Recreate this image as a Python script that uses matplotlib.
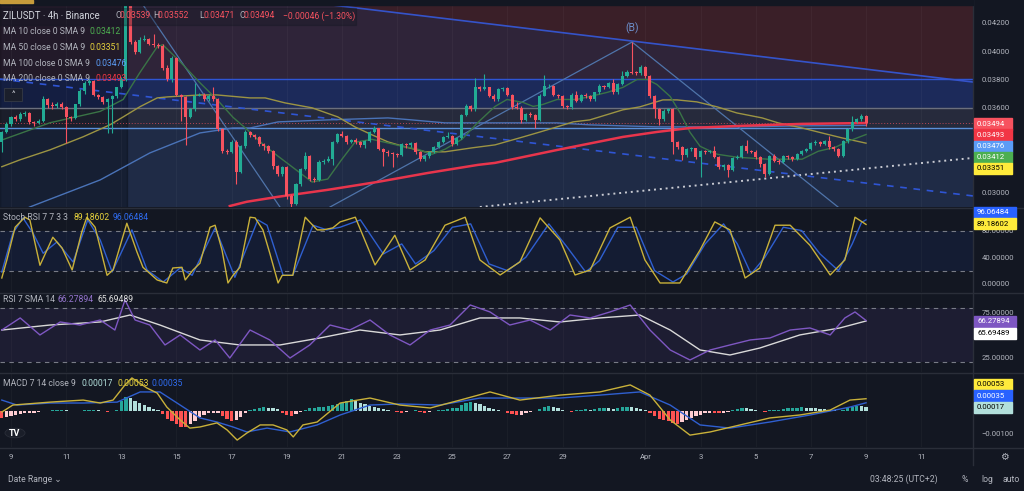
import matplotlib
matplotlib.use("Agg")
import matplotlib.pyplot as plt
import numpy as np
import pandas as pd
from matplotlib.patches import Rectangle, Polygon, Circle

plt.rcParams["font.family"] = ["Roboto", "DejaVu Sans"]

# ---------------- data (prices in 1e-5 USDT) ----------------
first_open = 3357
close = [3428, 3484, 3533, 3519, 3554, 3561, 3498, 3492, 3505, 3659,
         3617, 3610, 3624, 3603, 3533, 3526, 3624, 3716, 3772, 3786,
         3694, 3673, 3638, 3659, 3680, 3744, 3800, 4326, 4066, 3996,
         4080, 4085, 4052, 4045, 4038, 3884, 3800, 3954, 3694, 3673,
         3533, 3589, 3687, 3694, 3659, 3680, 3659, 3449, 3294, 3287,
         3357, 3147, 3329, 3430, 3407, 3393, 3343, 3329, 3294, 3189,
         3133, 3182, 2978, 2922, 3062, 3168, 3259, 3098, 3091, 3217,
         3224, 3238, 3357, 3414, 3400, 3357, 3371, 3357, 3336, 3364,
         3428, 3456, 3308, 3287, 3280, 3273, 3266, 3343, 3336, 3350,
         3287, 3238, 3259, 3287, 3322, 3357, 3393, 3400, 3343, 3385,
         3547, 3610, 3589, 3744, 3730, 3744, 3687, 3659, 3730, 3737,
         3694, 3603, 3600, 3512, 3554, 3550, 3512, 3687, 3751, 3755,
         3694, 3680, 3610, 3603, 3694, 3645, 3694, 3680, 3659, 3709,
         3751, 3744, 3772, 3709, 3765, 3821, 3856, 3849, 3845, 3891,
         3821, 3680, 3589, 3519, 3575, 3589, 3357, 3322, 3266, 3308,
         3315, 3252, 3294, 3287, 3294, 3252, 3182, 3196, 3161, 3245,
         3252, 3329, 3294, 3290, 3252, 3203, 3133, 3259, 3224, 3218,
         3259, 3252, 3238, 3273, 3294, 3308, 3350, 3357, 3343, 3364,
         3322, 3308, 3259, 3364, 3449, 3498, 3519, 3539, 3494]
high = [3440, 3500, 3545, 3550, 3570, 3580, 3570, 3510, 3520, 3680,
        3670, 3640, 3640, 3640, 3610, 3545, 3630, 3730, 3790, 3800,
        3795, 3700, 3680, 3670, 3690, 3750, 3820, 4400, 4340, 4080,
        4100, 4110, 4095, 4120, 4060, 4050, 3900, 3965, 3960, 3700,
        3680, 3600, 3777, 3705, 3705, 3700, 3750, 3670, 3460, 3310,
        3370, 3370, 3340, 3445, 3440, 3415, 3400, 3350, 3340, 3300,
        3195, 3190, 3190, 2990, 3070, 3175, 3290, 3265, 3110, 3230,
        3240, 3260, 3365, 3420, 3440, 3410, 3380, 3390, 3365, 3375,
        3440, 3470, 3460, 3315, 3300, 3290, 3285, 3355, 3350, 3360,
        3360, 3295, 3270, 3295, 3330, 3365, 3400, 3430, 3410, 3395,
        3555, 3625, 3620, 3810, 3755, 3840, 3750, 3700, 3740, 3750,
        3750, 3700, 3640, 3610, 3565, 3570, 3560, 3695, 3830, 3770,
        3760, 3700, 3690, 3620, 3705, 3720, 3700, 3705, 3690, 3715,
        3765, 3760, 3780, 3800, 3775, 3860, 3870, 4066, 3860, 3900,
        3895, 3830, 3690, 3600, 3590, 3600, 3600, 3365, 3330, 3320,
        3325, 3320, 3300, 3300, 3305, 3330, 3260, 3205, 3205, 3255,
        3265, 3340, 3375, 3300, 3300, 3260, 3210, 3270, 3275, 3240,
        3265, 3270, 3260, 3280, 3300, 3318, 3360, 3370, 3365, 3375,
        3400, 3330, 3315, 3370, 3460, 3540, 3530, 3560, 3552]
low = [3290, 3420, 3475, 3510, 3510, 3545, 3485, 3475, 3485, 3500,
       3600, 3595, 3600, 3590, 3350, 3510, 3520, 3615, 3700, 3760,
       3685, 3660, 3625, 3420, 3420, 3670, 3740, 3790, 4050, 3980,
       3990, 4070, 4040, 4030, 4020, 3870, 3790, 3780, 3680, 3505,
       3340, 3525, 3580, 3680, 3650, 3650, 3650, 3440, 3285, 3275,
       3280, 3065, 3140, 3320, 3395, 3380, 3330, 3300, 3285, 3170,
       3120, 3120, 2960, 2890, 2915, 3050, 3160, 3085, 3080, 3085,
       3205, 3215, 3200, 3350, 3395, 3345, 3350, 3345, 3325, 3320,
       3360, 3420, 3300, 3190, 3260, 3185, 3250, 3260, 3320, 3325,
       3275, 3225, 3225, 3245, 3280, 3315, 3350, 3385, 3330, 3335,
       3380, 3540, 3580, 3580, 3720, 3725, 3675, 3650, 3650, 3720,
       3680, 3590, 3590, 3490, 3505, 3535, 3460, 3505, 3680, 3740,
       3685, 3670, 3600, 3590, 3595, 3640, 3640, 3670, 3650, 3650,
       3700, 3735, 3740, 3700, 3700, 3760, 3815, 3840, 3835, 3830,
       3810, 3670, 3530, 3480, 3510, 3565, 3275, 3310, 3230, 3255,
       3295, 3240, 3115, 3275, 3280, 3245, 3170, 3165, 3115, 3155,
       3240, 3245, 3285, 3280, 3240, 3180, 3115, 3125, 3215, 3205,
       3210, 3240, 3225, 3230, 3265, 3290, 3300, 3340, 3330, 3335,
       3310, 3295, 3250, 3250, 3355, 3440, 3490, 3510, 3471]

ma10_x = [0, 10.5, 21.4, 26.4, 30, 33.8, 35, 38.8, 43.1, 46.8, 50.3, 53.3, 57.3,
          60.1, 63.8, 67.5, 70.9, 74, 76.8, 80.5, 83.4, 87.1, 90.5, 93.6, 96.4,
          100.1, 103.6, 107.3, 109.9, 113.4, 115.6, 117.7, 120.8, 125.1, 127.9,
          131.7, 135.1, 138.2, 140.4, 142.5, 145.4, 147.5, 149.7, 151.9, 155.6,
          159.9, 166.7, 174.1, 177.6, 181.3, 184.1, 188]
ma10_v = [3373, 3495, 3575, 3659, 3847, 4030, 4045, 3925, 3777, 3659, 3533, 3449,
          3329, 3259, 3168, 3077, 3098, 3238, 3357, 3378, 3357, 3329, 3308, 3273,
          3308, 3378, 3498, 3610, 3659, 3638, 3610, 3624, 3659, 3659, 3680, 3709,
          3744, 3800, 3800, 3765, 3680, 3568, 3428, 3329, 3273, 3252, 3238, 3238,
          3294, 3322, 3364, 3412]
ma50_x = [0, 4, 10.5, 17.7, 23.5, 26.4, 30, 33.8, 36, 43.1, 46.8, 54, 57.3, 61.6,
          67.5, 73.1, 76.8, 80.5, 84, 87.7, 92.1, 96.4, 102.3, 107.3, 113.4, 117.1,
          120.8, 124.3, 127.9, 135.1, 138.8, 143.8, 146.9, 151.2, 155.6, 159.9,
          165.4, 168.9, 174.1, 178.4, 182.8, 188]
ma50_v = [3185, 3234, 3304, 3396, 3480, 3536, 3607, 3670, 3677, 3691, 3691, 3670,
          3670, 3635, 3600, 3536, 3466, 3410, 3360, 3325, 3290, 3290, 3318, 3339,
          3395, 3430, 3466, 3501, 3515, 3586, 3607, 3656, 3656, 3642, 3607, 3564,
          3529, 3494, 3458, 3423, 3388, 3351]
ma100_x = [6, 21.4, 32.2, 43.1, 50.3, 54, 60.1, 70.9, 84, 89.2, 96.4, 107.3, 120.8,
           127.9, 135.1, 142.5, 149.7, 160.6, 174.1, 188]
ma100_v = [2900, 3092, 3282, 3423, 3458, 3458, 3501, 3515, 3529, 3515, 3494, 3494,
           3494, 3480, 3473, 3466, 3466, 3466, 3473, 3476]
ma200_x = [49.6, 53.3, 60.1, 70.9, 81.8, 92.7, 103.6, 107.3, 120.8, 135.1, 142.5,
           149.7, 160.6, 174.1, 188]
ma200_v = [2908, 2938, 2973, 3022, 3078, 3141, 3198, 3212, 3303, 3395, 3430, 3458,
           3473, 3487, 3493]

stoch_k_x = [0, 1.1, 2.9, 5, 6.1, 8.3, 11.1, 13.1, 15.3, 17.4, 18.5, 20.3, 22.9,
             24.2, 27.2, 29.4, 30.7, 33.8, 35.9, 37.2, 39.2, 39.9, 41.6, 43.1, 45.3,
             46.4, 47.9, 49.2, 50.3, 51.8, 54, 55.1, 56.8, 58.3, 60.1, 61, 63.3, 66,
             68.6, 69.9, 72, 73.6, 76.9, 81.2, 85.5, 88.8, 92.1, 96.4, 100.8, 104,
             108.4, 112.7, 117.1, 121.4, 124.7, 128, 132.3, 136.7, 139.9, 143.2,
             147.5, 151.9, 155.1, 158.4, 161.7, 164.9, 168.2, 171.5, 175.8, 180.2,
             183.4, 185.6, 188]
stoch_k_v = [9, 36, 85, 100, 96, 28, 70, 54, 21, 78, 100, 85, 13, 21, 91, 48, 25, 6,
             1.5, 24, 25, 6, 21, 31, 85, 88, 51, 1.5, 13, 25, 100, 99, 81, 46, 1.5,
             13, 13, 100, 81, 81, 84, 93, 100, 28.5, 73, 21, 36, 88, 100, 36, 13.5,
             33, 99, 66, 13.5, 21, 84, 100, 36, 1.5, 1.5, 51, 93, 81, 9, 24, 88, 88,
             58, 13.5, 36, 100, 89.19]
stoch_d_x = [0, 2.4, 4.6, 6.8, 9, 12, 15.5, 18.7, 21.4, 24, 28.3, 31.6, 35.1, 38.8,
             41.4, 46.4, 50.7, 55.7, 57.7, 61.2, 63.3, 67.7, 70.7, 73.6, 78, 83, 87,
             90, 94, 98, 102, 106, 110, 114, 119, 123, 127, 130, 134, 138, 142, 146,
             149, 153, 157, 160, 163, 166, 170, 174, 178, 182, 185, 187, 188]
stoch_d_v = [18, 76, 99, 76, 46, 63, 33, 96, 66, 18, 81, 21, 3, 24, 13, 84, 10, 96,
             88, 13, 13, 88, 81, 85, 96, 45, 60, 30, 50, 85, 90, 30, 20, 40, 90, 55,
             18, 35, 85, 85, 20, 3, 15, 60, 90, 60, 15, 40, 85, 80, 45, 20, 60, 92,
             96.06]

rsi_x = [0, 4, 8.3, 12.7, 17, 21.4, 24.6, 26.8, 29, 32.2, 35.5, 38.8, 43.1, 46.4,
         49.6, 54, 58.3, 62.7, 67, 71.4, 75.7, 80.1, 84.4, 88.8, 93.2, 97.5, 101.9,
         106.2, 110.5, 114.9, 119.3, 123.6, 128, 132.3, 136.7, 141, 145.4, 149.7,
         154.1, 158.4, 162.8, 167.1, 171.5, 175.8, 180.2, 183.4, 185.6, 188]
rsi_v = [55.6, 69.1, 50.1, 64.6, 61.2, 66.8, 55.6, 89.2, 66.8, 61.2, 38.9, 50.1,
         33.3, 44.5, 24.3, 55.6, 44.5, 24.3, 38.9, 61.2, 55.6, 66.8, 50.1, 38.9,
         55.6, 61.2, 83.6, 75.8, 61.2, 66.8, 55.6, 72.4, 69.1, 75.8, 83.6, 55.6,
         33.3, 22.1, 33.3, 38.9, 44.5, 46.7, 55.6, 57.9, 50.1, 69.1, 75.8, 66.28]
rsi_ma_x = [0, 10.5, 21.4, 27.9, 34.4, 43.1, 51.8, 60.5, 69.2, 77.9, 86.6, 95.3,
            104, 112.7, 121.4, 130.1, 138.8, 145.4, 151.9, 158.4, 164.9, 173.6,
            182.3, 188]
rsi_ma_v = [55.6, 61.2, 64.6, 72.4, 61.2, 44.5, 38.9, 38.9, 46.7, 55.6, 50.1, 55.6,
            69.1, 69.1, 64.6, 69.1, 72.4, 55.6, 33.3, 27.7, 35.5, 50.1, 57.9, 65.69]

# MACD values in 1e-5
macd_x = [0, 2.4, 10.5, 17.7, 21.4, 24.2, 26.8, 28.3, 31.6, 33.8, 35.9, 38.8, 40.9,
          43.1, 46.8, 49, 51.2, 53.3, 56.2, 59, 62, 63.4, 65.5, 68.6, 73.6, 80.1,
          86.6, 93.2, 99.7, 106.2, 112.7, 121.4, 130.1, 136.7, 141, 145.4, 149.7,
          154.1, 160.6, 167.1, 173.6, 180.2, 184.5, 188]
macd_v = [-6, 25, 38, 47, 34, 47, 114, 145, 100, 78, 16, -41, -77, -72, -54, -85,
          -130, -99, -63, -63, -85, -116, -63, -50, 34, 56, 25, 12, 47, 83, 47, 69,
          83, 114, 69, -41, -108, -94, -63, -32, -19, 3, 47, 53]
signal_x = [0, 3.3, 10.5, 17.7, 25.1, 30.1, 34.4, 38.8, 43.1, 46.8, 50.3, 53.3,
            57.7, 62.7, 68.6, 73.6, 80.1, 86.6, 95.3, 104, 112.7, 121.4, 130.1,
            138.8, 145.4, 151.9, 158.4, 167.1, 175.8, 184.5, 188]
signal_v = [47, 25, 34, 34, 38, 83, 83, 25, -32, -50, -72, -94, -77, -94, -63, -19,
            25, 30, 25, 56, 56, 56, 69, 83, 25, -63, -77, -50, -19, 16, 35]
hist = [-33, -30, -25, -18, -14, -12, -10, -8, -5, -3, -2, 2, 3,
        3, 2, -2, -3, -2, 3, 4, 4, 3, -2, -4, -3, 5, 45, 62,
        55, 45, 35, 25, 15, 8, 5, -15, -35, -45, -60, -70, -72,
        -60, -45, -30, -20, -12, -10, -8, -25, -35, -45, -40, -30,
        -10, 5, 8, 12, 15, 14, 12, 8, -10, -18, -25, -15, -6, 3,
        10, 12, 15, 18, 20, 24, 28, 35, 45, 50, 42, 35, 28, 22,
        15, 10, 6, 3, -3, -6, -8, -5, -3, 2, -5, -8, -6, -3, 2, 5, 8, 10, 12,
        25, 35, 40, 35, 28, 20, 12, 8, 5, -3, -8, -15, -20, -18, -12, -6, -3, 8,
        18, 22, 18, 12, 5, -3, -5, 2, 5, 6, 5, 8, 12, 14, 12, 8, 10, 15, 18,
        15, 12, 8, 2, -10, -22, -35, -42, -45, -55, -58, -50, -40, -32,
        -25, -18, -12, -8, -8, -10, -8, -5, 3, 8, 12, 10, 6, 4, -2, -5, 2, 4,
        5, 8, 10, 12, 14, 15, 14, 12, 10, 8, 6, 4, 2, -2, 5, 12, 18, 22, 20, 17]

day_ticks = ["2024-03-09", "2024-03-11", "2024-03-13", "2024-03-15", "2024-03-17",
             "2024-03-19", "2024-03-21", "2024-03-23", "2024-03-25", "2024-03-27",
             "2024-03-29", "2024-04-01", "2024-04-03", "2024-04-05", "2024-04-07",
             "2024-04-09", "2024-04-11"]
day_labels = ["9", "11", "13", "15", "17", "19", "21", "23", "25", "27", "29", "Apr",
              "3", "5", "7", "9", "11"]
first_bar = "2024-03-08 16:00"

# ---------------- look ----------------
W, H = 1024, 491
PR = 973  # price scale border (px)
BG = "#131722"
GRID = "#2a2e39"
TXT = "#b2b5be"
UP, DN = "#22ab94", "#f7525f"
P = 1e-5
X0, X1 = -0.392, 211.27

fig = plt.figure(figsize=(W / 100, H / 100), dpi=100)
fig.patch.set_facecolor(BG)


def pane(top, bottom, ylim):
    a = fig.add_axes([0, 1 - bottom / H, PR / W, (bottom - top) / H])
    a.set_facecolor(BG)
    a.set_xlim(X0, X1)
    a.set_ylim(*ylim)
    for s in a.spines.values():
        s.set_visible(False)
    a.yaxis.tick_right()
    a.tick_params(axis="y", length=0, pad=6, labelsize=5.6, labelcolor=TXT)
    a.tick_params(axis="x", length=0, labelbottom=False)
    return a


def ftext(x, y, s, **kw):
    kw.setdefault("fontsize", 6.2)
    kw.setdefault("va", "center")
    fig.text(x / W, 1 - y / H, s, **kw)


def tag(y, s, bg, fg="white", x1=1012):
    fig.add_artist(Rectangle((974 / W, 1 - (y + 5.5) / H), (x1 - 974) / W, 11 / H,
                             transform=fig.transFigure, color=bg, zorder=5))
    ftext(977, y, s, color=fg, fontsize=5.6, zorder=6)


t0 = pd.Timestamp(first_bar)
tick_pos = [(pd.Timestamp(d) - t0) / pd.Timedelta(hours=4) for d in day_ticks]

# ---------------- main price pane ----------------
ax = pane(5, 207, (0.02901, 0.04325))
top = 0.04325
ax.add_patch(Rectangle((X0, 0.038), X1 - X0, 0.01, color="#3a1f28", zorder=0))
ax.add_patch(Polygon([(X0, 0.038), (X0, top), (71.8, top), (X1, 0.03782), (X1, 0.038)],
                     closed=True, color="#2f2439", zorder=0))
ax.add_patch(Rectangle((X0, 0.036), X1 - X0, 0.002, color="#1c2a5a", zorder=0))
ax.add_patch(Rectangle((X0, 0.03458), X1 - X0, 0.00142, color="#262a3c", zorder=0))
ax.add_patch(Rectangle((X0, 0.028), X1 - X0, 0.00658, color="#1f2b46", zorder=0))
ax.add_patch(Rectangle((X0, 0.028), 27.2 - X0, 0.02, color="black", alpha=0.27, zorder=0.5))
for tp in tick_pos:
    ax.axvline(tp, color="white", alpha=0.035, lw=0.8, zorder=0.6)

ax.axhline(0.038, color="#2f55d4", lw=1.0, zorder=1)
ax.axhline(0.036, color="#6b6f7d", lw=1.0, zorder=1)
ax.axhline(0.03458, color="#5b8fd8", lw=1.0, zorder=1)
ax.axhline(0.03494, color=DN, lw=0.7, ls=(0, (1, 2)), alpha=0.7, zorder=1)

ax.plot([62.9, X1], [0.0436, 0.03782], color="#3553c9", lw=1.2, zorder=2)
ax.plot([X0, X1], [0.03803, 0.02979], color="#2f55d4", lw=1.2, ls=(0, (4, 4)), zorder=2)
ax.plot([104, X1], [0.02901, 0.03247], color="#c8cad2", lw=1.4, ls=(0, (1, 2)), zorder=2)
ax.plot([30.0, 60.5], [0.0436, 0.02901], color="#4f74aa", lw=0.9, zorder=2)
ax.plot([71.4, 137.1, 181.9], [0.02901, 0.04064, 0.02901], color="#4f74aa", lw=0.9, zorder=2)
ax.text(137.1, 0.04163, "(B)", color="#6d8fcb", fontsize=7.5, ha="center", va="center")

ax.plot(ma100_x, np.array(ma100_v) * P, color="#4a73b8", lw=1.0, zorder=2)
ax.plot(ma50_x, np.array(ma50_v) * P, color="#9c9443", lw=1.0, zorder=2)
ax.plot(ma10_x, np.array(ma10_v) * P, color="#3a7446", lw=1.0, zorder=2)
ax.plot(ma200_x, np.array(ma200_v) * P, color="#e8354c", lw=1.8, zorder=2)

c = np.array(close) * P
o = np.r_[first_open * P, c[:-1]]
idx = np.arange(len(c))
cols = np.where(c >= o, UP, DN)
ax.vlines(idx, np.array(low) * P, np.array(high) * P, colors=cols, lw=0.8, zorder=3)
ax.bar(idx, np.maximum(np.abs(c - o), 0.00005), bottom=np.minimum(o, c), width=0.66,
       color=cols, zorder=4)
ax.set_yticks([0.030, 0.036, 0.038, 0.040, 0.042])
ax.set_yticklabels(["0.03000", "0.03600", "0.03800", "0.04000", "0.04200"])

# ---------------- Stoch RSI ----------------
axs = pane(208, 292, (-12, 113.8))
axs.axhspan(20, 80, color="#2962ff", alpha=0.08, lw=0)
for lvl in (20, 80):
    axs.axhline(lvl, color="#787b86", lw=0.8, ls=(0, (4, 4)))
axs.plot(stoch_d_x, stoch_d_v, color="#2f5fd0", lw=1.0)
axs.plot(stoch_k_x, stoch_k_v, color="#c9b13a", lw=1.0)
axs.set_yticks([0, 40, 80])
axs.set_yticklabels(["0.00000", "40.00000", "80.00000"])

# ---------------- RSI ----------------
axr = pane(293, 372, (8.67, 97.0))
axr.axhspan(20, 80, color="#7e57c2", alpha=0.1, lw=0)
for lvl in (20, 80):
    axr.axhline(lvl, color="#787b86", lw=0.8, ls=(0, (4, 4)))
axr.plot(rsi_ma_x, rsi_ma_v, color="#d9d9d9", lw=1.0)
axr.plot(rsi_x, rsi_v, color="#7e57c2", lw=1.0)
axr.set_yticks([25, 75])
axr.set_yticklabels(["25.00000", "75.00000"])

# ---------------- MACD ----------------
axm = pane(373, 447, (-0.001606, 0.001668))
hv = np.array(hist, dtype=float)
prev = np.r_[hv[0], hv[:-1]]
hcol = np.where(hv >= 0, np.where(hv >= prev, "#26a69a", "#b2dfdb"),
                np.where(hv <= prev, "#ff5252", "#ffcdd2"))
axm.bar(np.arange(len(hv)), hv * P, width=0.72, color=hcol, zorder=1)
axm.plot(signal_x, np.array(signal_v) * P, color="#2f5fd0", lw=1.0, zorder=2)
axm.plot(macd_x, np.array(macd_v) * P, color="#c9b13a", lw=1.0, zorder=2)
axm.set_yticks([-0.001])
axm.set_yticklabels(["\u22120.00100"])
axm.set_xticks(tick_pos)
axm.set_xticklabels(day_labels)
axm.tick_params(axis="x", labelbottom=True, labelsize=5.6, labelcolor=TXT, pad=5)
for a in (axs, axr, axm):
    for tp in tick_pos:
        a.axvline(tp, color="white", alpha=0.03, lw=0.8, zorder=0)

# ---------------- separators ----------------
for y in (207.5, 292.5, 372.5, 447.5):
    fig.add_artist(plt.Line2D([0, 1], [1 - y / H] * 2, color=GRID, lw=1.0))
fig.add_artist(plt.Line2D([PR / W] * 2, [1, 1 - 465 / H], color=GRID, lw=1.0))
fig.add_artist(Rectangle((0, 1 - 5 / H), PR / W, 5 / H, transform=fig.transFigure,
                         color=BG, zorder=4))
fig.add_artist(Rectangle((0, 1 - 3 / H), 33 / W, 3 / H, transform=fig.transFigure,
                         color="#c79b3b", zorder=5))

# ---------------- legends ----------------
fig.add_artist(Rectangle((0, 1 - 25 / H), 356 / W, 17 / H, transform=fig.transFigure,
                         color=BG, alpha=0.35, zorder=2))
ftext(3, 16, "ZILUSDT \u00b7 4h \u00b7 Binance", color="#d1d4dc", fontsize=6.9)
for xx, lab, val in [(115, "O", "0.03539"), (153, "H", "0.03552"),
                     (199, "L", "0.03471"), (239, "C", "0.03494")]:
    ftext(xx, 16, lab, color=TXT, fontsize=6.2)
    ftext(xx + 5, 16, val, color=DN, fontsize=6.2)
ftext(283, 16, "\u22120.00046 (\u22121.30%)", color=DN, fontsize=6.2)

ma_rows = [("MA 10 close 0 SMA 9", "0.03412", "#4caf50", 90),
           ("MA 50 close 0 SMA 9", "0.03351", "#e5d13c", 90),
           ("MA 100 close 0 SMA 9", "0.03476", "#5b9cf6", 95),
           ("MA 200 close 0 SMA 9", "0.03493", "#f23645", 95)]
for k, (lab, val, col, vx) in enumerate(ma_rows):
    y = 32 + 15.6 * k
    ftext(3, y, lab, color=TXT)
    ftext(vx, y, val, color=col)
fig.add_artist(Rectangle((4 / W, 1 - 101 / H), 18 / W, 13 / H, transform=fig.transFigure,
                         facecolor="#1b1f2b", edgecolor="#363a45", lw=0.6, zorder=5))
ftext(13, 94, "^", color="#d1d4dc", fontsize=6, ha="center", zorder=6)

ftext(3, 217, "Stoch RSI 7 7 3 3", color=TXT)
ftext(73, 217, "89.18602", color="#e5d13c")
ftext(113, 217, "96.06484", color="#2f6cf0")
ftext(3, 300, "RSI 7 SMA 14", color=TXT)
ftext(57, 300, "66.27894", color="#9575cd")
ftext(97, 300, "65.69489", color="#e0e0e0")
ftext(3, 384, "MACD 7 14 close 9", color=TXT)
ftext(81, 384, "0.00017", color="#b2dfdb")
ftext(117, 384, "0.00053", color="#e5d13c")
ftext(152, 384, "0.00035", color="#2f6cf0")

fig.add_artist(Circle((15 / W, 1 - 433 / H), 10 / W, transform=fig.transFigure,
                      facecolor="#1a1e29", edgecolor="#2a2e39", lw=0.6, zorder=5))
ftext(15, 433, "TV", color="white", fontsize=6.5, weight="bold", ha="center", zorder=6)

# ---------------- price scale tags ----------------
tag(124, "0.03494", "#f7525f")
tag(134.7, "0.03493", "#f23645")
tag(146, "0.03476", "#5b9cf6")
tag(157, "0.03412", "#4caf50")
tag(168.3, "0.03351", "#ffeb3b", fg="black")
tag(212.3, "96.06484", "#2962ff", x1=1016)
tag(224, "89.18602", "#ffeb3b", fg="black", x1=1016)
tag(321, "66.27894", "#7e57c2", x1=1016)
tag(333.3, "65.69489", "white", fg="black", x1=1016)
tag(384, "0.00053", "#ffeb3b", fg="black")
tag(395.7, "0.00035", "#2962ff")
tag(407.3, "0.00017", "#b2dfdb", fg="black")

# ---------------- bottom bar ----------------
ftext(1004, 457, "\u2699", color=TXT, fontsize=7, ha="center")
ftext(8, 479, "Date Range \u2304", color=TXT, fontsize=6.2)
ftext(938, 479, "03:48:25 (UTC+2)", color=TXT, fontsize=6.2, ha="right")
ftext(965, 479, "%", color=TXT, fontsize=6.2, ha="center")
ftext(987, 479, "log", color=TXT, fontsize=6.2, ha="center")
ftext(1011, 479, "auto", color=TXT, fontsize=6.2, ha="center")

fig.savefig("out.png", dpi=100, facecolor=BG)
